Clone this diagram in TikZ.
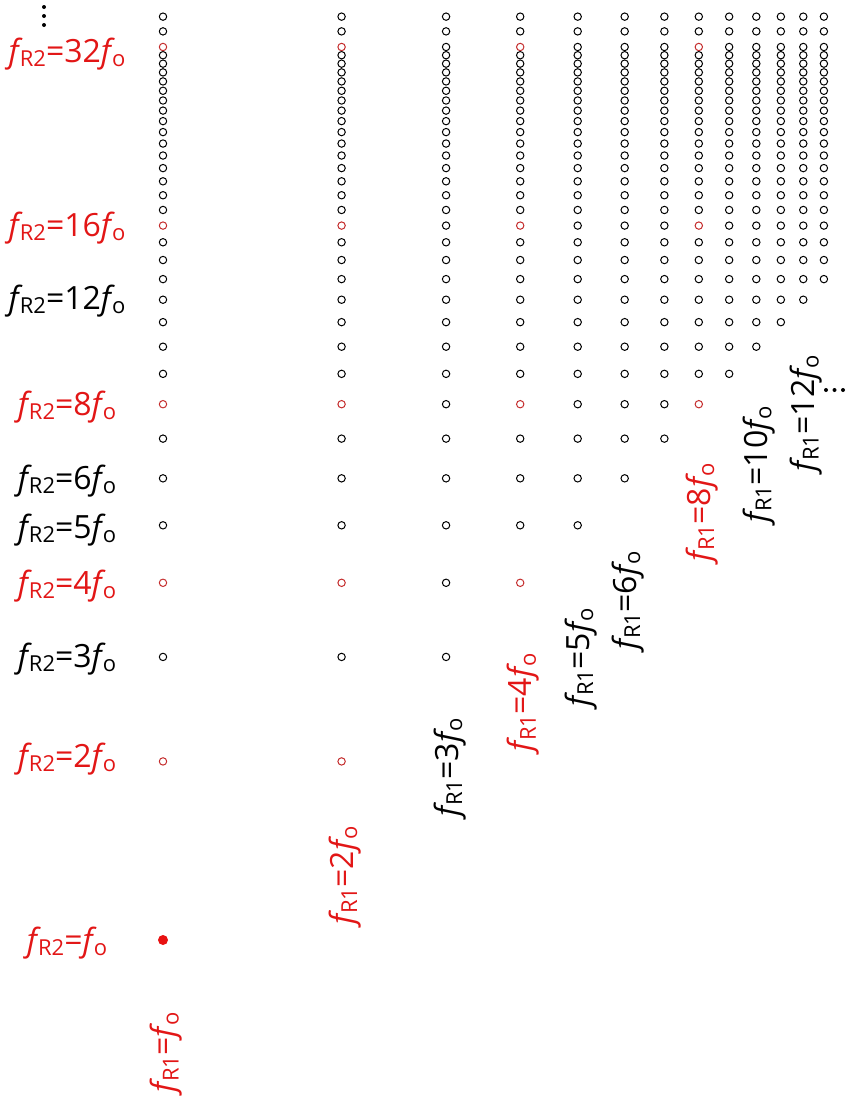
\documentclass[tikz,border=0pt]{standalone}
\usepackage{fontspec}
\setmainfont{Open Sans}
\definecolor{lred}{RGB}{226,22,22}
\definecolor{cred}{RGB}{196,44,44}
\definecolor{dred}{RGB}{232,18,18}
\newcommand\sbx[1]{\raisebox{-0.13em}{\fontsize{22}{22}\selectfont #1}}
\newcommand\fl[2]{\textit{f}\kern-0.09em\sbx{#1}=#2\textit{f}\kern-0.09em\sbx{o}}
\begin{document}
\begin{tikzpicture}[x=1pt,y=-1pt,
  lab/.style={font=\fontsize{32}{32}\selectfont, inner sep=0pt},
  rlab/.style={lab, rotate=90, anchor=base west},
  llab/.style={lab, anchor=base},
  ring/.style={circle, draw, line width=1pt, minimum size=7.4pt, inner sep=0pt},
  rring/.style={ring, draw=cred},
  dotn/.style={circle, fill, minimum size=4pt, inner sep=0pt}]
\useasboundingbox (0,0) rectangle (851,1098);
\foreach \n in {1,...,13}{
  \foreach \m in {\n,...,36}{
    \pgfmathtruncatemacro\skipme{(\m==33)||(\m==35)||((\n==1)&&(\m==1))}
    \ifnum\skipme=0
      \pgfmathtruncatemacro\rr{(\n==1||\n==2||\n==4||\n==8)&&(\m==1||\m==2||\m==4||\m==8||\m==16||\m==32)}
      \pgfmathsetmacro\cx{163+257.67*ln(\n)}
      \pgfmathsetmacro\cy{940-257.67*ln(\m)}
      \ifnum\rr=1
        \node[rring] (c-\n-\m) at (\cx,\cy) {};
      \else
        \node[ring] (c-\n-\m) at (\cx,\cy) {};
      \fi
    \fi
  }
}
\node[circle, fill=dred, minimum size=10pt, inner sep=0pt] (c-1-1) at (163,940) {};
% left labels
\node[llab, text=lred] (l1) at (67,951) {\fl{R2}{}};
\node[llab, text=lred] (l2) at (67,767) {\fl{R2}{2}};
\node[llab] (l3) at (67,667) {\fl{R2}{3}};
\node[llab, text=lred] (l4) at (67,594) {\fl{R2}{4}};
\node[llab] (l5) at (67,538) {\fl{R2}{5}};
\node[llab] (l6) at (67,489) {\fl{R2}{6}};
\node[llab, text=lred] (l8) at (67,415) {\fl{R2}{8}};
\node[llab] (l12) at (67,309) {\fl{R2}{12}};
\node[llab, text=lred] (l16) at (67,236) {\fl{R2}{16}};
\node[llab, text=lred] (l32) at (67,62) {\fl{R2}{32}};
\node[dotn] (td1) at (44,7) {};
\node[dotn] (td2) at (44,16) {};
\node[dotn] (td3) at (44,25) {};
% bottom labels
\node[rlab, text=lred] (b1) at (174.4,1093) {\fl{R1}{}};
\node[rlab, text=lred] (b2) at (353,925) {\fl{R1}{2}};
\node[rlab] (b3) at (458,817) {\fl{R1}{3}};
\node[rlab, text=lred] (b4) at (531.6,752) {\fl{R1}{4}};
\node[rlab] (b5) at (589,707) {\fl{R1}{5}};
\node[rlab] (b6) at (636,650) {\fl{R1}{6}};
\node[rlab, text=lred] (b8) at (710,562) {\fl{R1}{8}};
\node[rlab] (b10) at (767.3,523) {\fl{R1}{10}};
\node[rlab] (b12) at (814.4,472) {\fl{R1}{12}};
\node[dotn] (rd1) at (826,390) {};
\node[dotn] (rd2) at (834.5,390) {};
\node[dotn] (rd3) at (843,390) {};
\end{tikzpicture}
\end{document}
